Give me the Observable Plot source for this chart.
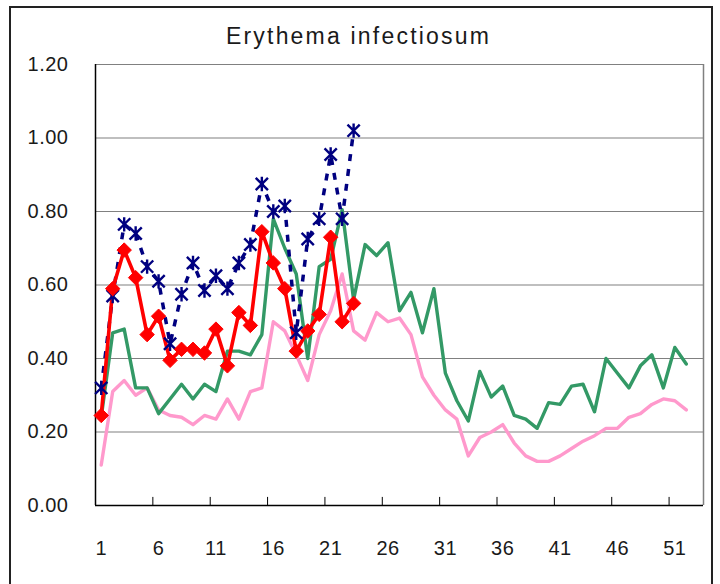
<!DOCTYPE html>
<html>
<head>
<meta charset="utf-8">
<script src="https://cdn.jsdelivr.net/npm/d3@7"></script>
<script src="https://cdn.jsdelivr.net/npm/@observablehq/plot@0.6"></script>
<style>
  html, body { margin: 0; padding: 0; background: #fff; }
  #wrap { position: relative; width: 720px; height: 584px; overflow: hidden; }
  #border { position: absolute; left: 9px; top: 6px; width: 700px; height: 620px; border: 2px solid #222; box-sizing: content-box; pointer-events: none; }
  #chart { position: absolute; left: 0; top: 0; }
  #chart svg g[aria-label="y-axis tick label"] text, #chart svg g[aria-label="x-axis tick label"] text { letter-spacing: 0.5px; }
  #chart svg g[aria-label="text"] text { letter-spacing: 2.2px; }
</style>
</head>
<body>
<div id="wrap"><div id="chart"></div><div id="border"></div></div>
<script>
const title = "Erythema infectiosum";
const weeks = d3.range(1, 53);
const xLabels = [1, 6, 11, 16, 21, 26, 31, 36, 41, 46, 51];
const xTickMarks = [5.5, 10.5, 15.5, 20.5, 25.5, 30.5, 35.5, 40.5, 45.5, 50.5];
const yTicks = [0, 0.2, 0.4, 0.6, 0.8, 1.0, 1.2];

const navy = [0.32, 0.57, 0.765, 0.74, 0.65, 0.61, 0.44, 0.575, 0.66, 0.585, 0.625, 0.59, 0.66, 0.71, 0.875, 0.80, 0.815, 0.47, 0.725, 0.78, 0.955, 0.78, 1.02];
const red = [0.245, 0.59, 0.695, 0.62, 0.465, 0.515, 0.395, 0.425, 0.425, 0.415, 0.48, 0.38, 0.525, 0.49, 0.745, 0.66, 0.59, 0.42, 0.475, 0.52, 0.73, 0.50, 0.55];
const green = [0.24, 0.47, 0.48, 0.32, 0.32, 0.25, 0.29, 0.33, 0.29, 0.33,
  0.31, 0.42, 0.42, 0.41, 0.465, 0.78, 0.70, 0.63, 0.40, 0.65,
  0.67, 0.805, 0.56, 0.71, 0.68, 0.715, 0.53, 0.58, 0.47, 0.59,
  0.36, 0.285, 0.23, 0.365, 0.295, 0.325, 0.245, 0.235, 0.21, 0.28,
  0.275, 0.325, 0.33, 0.255, 0.40, 0.36, 0.32, 0.38, 0.41, 0.32,
  0.43, 0.385];
const pink = [0.11, 0.31, 0.34, 0.30, 0.32, 0.26, 0.245, 0.24, 0.22, 0.245,
  0.235, 0.29, 0.235, 0.31, 0.32, 0.50, 0.475, 0.41, 0.34, 0.465,
  0.53, 0.63, 0.475, 0.45, 0.525, 0.50, 0.51, 0.465, 0.35, 0.30,
  0.26, 0.235, 0.135, 0.185, 0.20, 0.22, 0.17, 0.135, 0.12, 0.12,
  0.135, 0.155, 0.175, 0.19, 0.21, 0.21, 0.24, 0.25, 0.275, 0.29,
  0.285, 0.26];

const toRows = (vals) => vals.map((v, i) => ({week: weeks[i], value: v}));
const navyRows = toRows(navy), redRows = toRows(red), greenRows = toRows(green), pinkRows = toRows(pink);

const star = {
  draw(ctx, size) {
    const r = Math.sqrt(size / Math.PI);
    const d = r * 0.85;
    ctx.moveTo(0, -r); ctx.lineTo(0, r);
    ctx.moveTo(-d, -d); ctx.lineTo(d, d);
    ctx.moveTo(-d, d); ctx.lineTo(d, -d);
  }
};

const font = "'Liberation Sans', Arial, sans-serif";

const chart = Plot.plot({
  width: 720,
  height: 584,
  marginLeft: 95,
  marginRight: 17,
  marginTop: 64,
  marginBottom: 79,
  style: { fontFamily: font, fontSize: "20px", color: "#1a1a1a", background: "transparent", overflow: "visible" },
  x: { domain: [0.5, 53.5] },
  y: { domain: [0, 1.2] },
  marks: [
    Plot.ruleY(yTicks.filter(d => d > 0), { stroke: "#808080", strokeWidth: 1.2 }),
    Plot.ruleX([53.5], { stroke: "#808080", strokeWidth: 1.5 }),
    Plot.ruleX([0.5], { stroke: "#000", strokeWidth: 1.5 }),
    Plot.ruleY([0], { stroke: "#000", strokeWidth: 1.5 }),
    Plot.ruleX(xTickMarks, { y1: 0, y2: 0.022, stroke: "#000", strokeWidth: 1 }),
    Plot.axisY({ ticks: yTicks, tickFormat: d => d.toFixed(2), tickSize: 0, tickPadding: 27, fontSize: 20, label: null }),
    Plot.axisX({ ticks: xLabels, tickSize: 0, tickPadding: 35, fontSize: 20, label: null }),
    Plot.line(pinkRows, { x: "week", y: "value", stroke: "#FF99CC", strokeWidth: 3.4 }),
    Plot.line(greenRows, { x: "week", y: "value", stroke: "#339966", strokeWidth: 3.4 }),
    Plot.line(navyRows, { x: "week", y: "value", stroke: "#000080", strokeWidth: 3.5, strokeDasharray: "7,8", strokeLinecap: "butt" }),
    Plot.line(redRows, { x: "week", y: "value", stroke: "#FF0000", strokeWidth: 3.6 }),
    Plot.dot(navyRows, { x: "week", y: "value", symbol: star, r: 7.2, stroke: "#000080", strokeWidth: 2.4, fill: "none" }),
    Plot.dot(redRows, { x: "week", y: "value", symbol: "diamond2", r: 6.5, fill: "#FF0000", stroke: "#FF0000", strokeWidth: 1 }),
    Plot.text([title], { frameAnchor: "top", dx: -41, dy: -21, lineAnchor: "bottom", textAnchor: "middle", fontSize: 23, fill: "#1a1a1a", fontFamily: font })
  ]
});
document.getElementById("chart").appendChild(chart);
</script>
</body>
</html>
